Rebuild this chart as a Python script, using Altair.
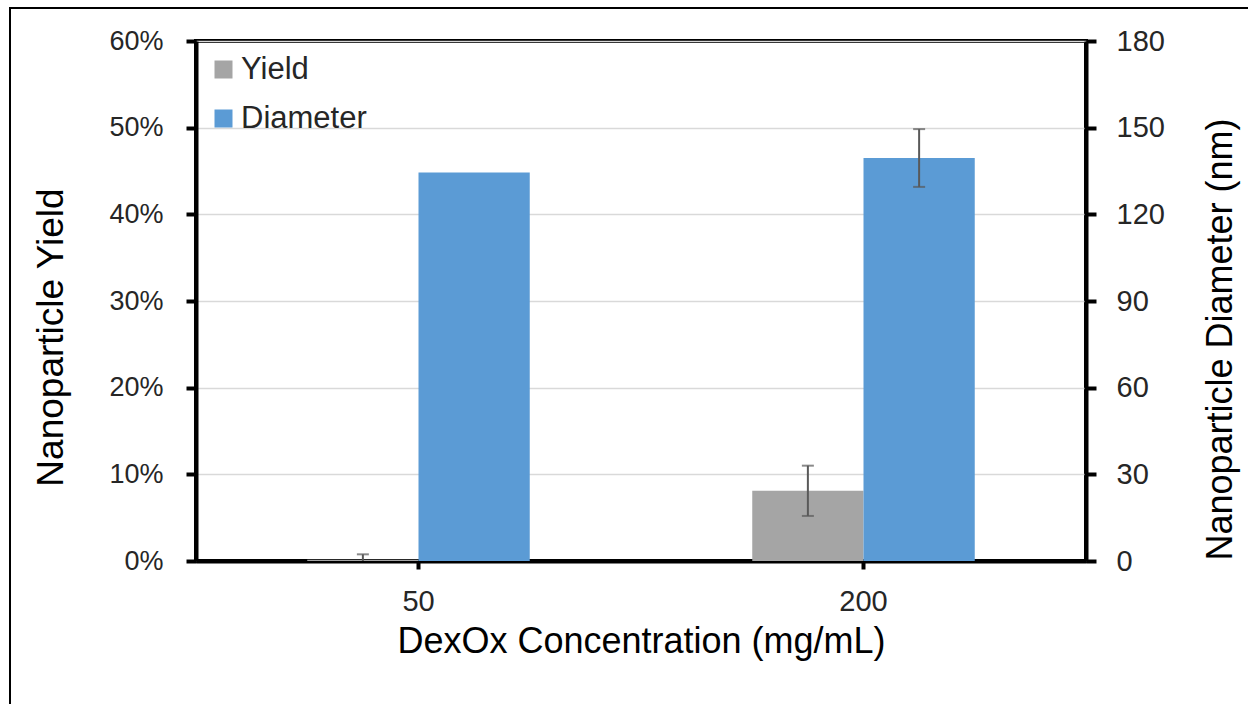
import altair as alt
import pandas as pd

# ---- data ----
conc = ["50", "200"]
series = ["Yield", "Diameter"]
yield_frac = [0.0015, 0.081]
yield_low = [0.0, 0.052]
yield_high = [0.0077, 0.110]
diameter_nm = [134.5, 139.5]
diam_err_conc = ["200"]
diam_low = [129.5]
diam_high = [149.5]
colors = ["#a5a5a5", "#5b9bd5"]

FONT = "Liberation Sans"
LBL = "#262626"

df_y = pd.DataFrame({"conc": conc, "series": "Yield", "value": yield_frac,
                     "low": yield_low, "high": yield_high})
df_d = pd.DataFrame({"conc": conc, "series": "Diameter", "value": diameter_nm})
df_de = pd.DataFrame({"conc": diam_err_conc, "series": "Diameter",
                      "low": diam_low, "high": diam_high})

X = alt.X("conc:N", sort=conc,
          scale=alt.Scale(paddingInner=0, paddingOuter=0),
          axis=alt.Axis(title="DexOx Concentration (mg/mL)", labelAngle=0,
                        labelFontSize=29, titleFontSize=36, titleFontWeight="normal",
                        titleBaseline="top", titleY=63,
                        labelPadding=18, tickSize=8, tickWidth=4, tickColor="black",
                        domainColor="black", domainWidth=4, labelColor=LBL,
                        titleColor="black", grid=False))
XO = alt.XOffset("series:N", scale=alt.Scale(domain=series, paddingInner=0, paddingOuter=1.0))

left_axis = alt.Axis(title="Nanoparticle Yield", format=".0%", values=[0, 0.1, 0.2, 0.3, 0.4, 0.5, 0.6],
                     labelFontSize=27, titleFontSize=37, labelPadding=23,
                     titleFontWeight="normal", titleAngle=270, titleBaseline="top",
                     titleAlign="center", titleX=-163, titleY=296,
                     tickSize=10, tickWidth=4, tickColor="black", domainColor="black", domainWidth=4,
                     grid=True, gridColor="#d9d9d9", gridWidth=1.5, labelColor=LBL, titleColor="black")
right_axis = alt.Axis(title="Nanoparticle Diameter (nm)", orient="right",
                      values=[0, 30, 60, 90, 120, 150, 180],
                      labelFontSize=29, titleFontSize=36, labelPadding=20,
                      titleFontWeight="normal", titleAngle=270, titleBaseline="top",
                      titleAlign="center", titleX=117, titleY=298,
                      tickSize=10, tickWidth=4, tickColor="black", domainColor="black", domainWidth=4,
                      grid=False, labelColor=LBL, titleColor="black")

color = alt.Color("series:N", scale=alt.Scale(domain=series, range=colors),
                  legend=alt.Legend(orient="none", legendX=12, legendY=13, title=None, padding=0,
                                    symbolType="square", symbolSize=324, symbolStrokeWidth=0,
                                    symbolOpacity=1, labelFontSize=31, labelColor="#262626",
                                    rowPadding=17, labelOffset=2))

yscale_l = alt.Scale(domain=[0, 0.6], nice=False)
yscale_r = alt.Scale(domain=[0, 180], nice=False)

y_bars = alt.Chart(df_y).mark_bar().encode(
    x=X, xOffset=XO, y=alt.Y("value:Q", scale=yscale_l, axis=left_axis), color=color)
y_err = alt.Chart(df_y).mark_rule(color="#595959", strokeWidth=2).encode(
    x=X, xOffset=XO, y=alt.Y("low:Q", scale=yscale_l, axis=left_axis), y2="high:Q")
y_cap_hi = alt.Chart(df_y).mark_tick(color="#595959", thickness=2, size=12).encode(
    x=X, xOffset=XO, y=alt.Y("high:Q", scale=yscale_l, axis=left_axis))
y_cap_lo = alt.Chart(df_y[df_y["low"] > 0]).mark_tick(color="#595959", thickness=2, size=12).encode(
    x=X, xOffset=XO, y=alt.Y("low:Q", scale=yscale_l, axis=left_axis))
left = alt.layer(y_bars, y_err, y_cap_hi, y_cap_lo)

d_bars = alt.Chart(df_d).mark_bar().encode(
    x=X, xOffset=XO, y=alt.Y("value:Q", scale=yscale_r, axis=right_axis), color=color)
d_err = alt.Chart(df_de).mark_rule(color="#595959", strokeWidth=2).encode(
    x=X, xOffset=XO, y=alt.Y("low:Q", scale=yscale_r, axis=right_axis), y2="high:Q")
d_cap_hi = alt.Chart(df_de).mark_tick(color="#595959", thickness=2, size=12).encode(
    x=X, xOffset=XO, y=alt.Y("high:Q", scale=yscale_r, axis=right_axis))
d_cap_lo = alt.Chart(df_de).mark_tick(color="#595959", thickness=2, size=12).encode(
    x=X, xOffset=XO, y=alt.Y("low:Q", scale=yscale_r, axis=right_axis))
right = alt.layer(d_bars, d_err, d_cap_hi, d_cap_lo)

frame = alt.Chart(pd.DataFrame({"k": [0]})).mark_rect(
    fill=None, stroke="black", strokeWidth=2, clip=False).encode(
    x=alt.value(-186), x2=alt.value(1300), y=alt.value(-33), y2=alt.value(900))

chart = alt.layer(left, right, frame).resolve_scale(y="independent").properties(
    width=890, height=520,
    autosize=alt.AutoSizeParams(type="none"),
    padding={"left": 196, "top": 41, "right": 162, "bottom": 143},
    background="white",
).configure(font=FONT).configure_view(stroke="black", strokeWidth=4)

chart.save("out.html", embed_options={"renderer": "svg", "actions": False})
